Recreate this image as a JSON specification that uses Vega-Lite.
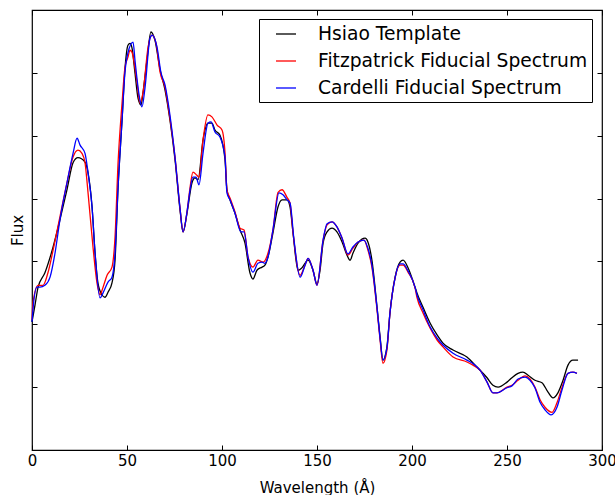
{
  "$schema": "https://vega.github.io/schema/vega-lite/v6.json",
  "width": 570,
  "height": 440,
  "autosize": {"type": "none"},
  "padding": {"left": 32, "top": 10, "right": 13, "bottom": 45},
  "background": "white",
  "config": {
    "font": "DejaVu Sans",
    "view": {"stroke": "black", "strokeWidth": 1.2},
    "axis": {"grid": false, "domain": false, "tickColor": "black", "tickSize": -5, "tickWidth": 1, "labelColor": "black", "titleColor": "black", "labelFont": "DejaVu Sans", "titleFont": "DejaVu Sans", "labelFontSize": 15, "titleFontSize": 15, "titleFontWeight": "normal", "labelFlush": false}
  },
  "datasets": {
    "spec": [
      {"s":"Hsiao Template","x":0,"y":2.04},{"s":"Hsiao Template","x":1.6,"y":2.31},{"s":"Hsiao Template","x":3.2,"y":2.59},{"s":"Hsiao Template","x":6.8,"y":2.82},{"s":"Hsiao Template","x":11.1,"y":3.23},{"s":"Hsiao Template","x":14.7,"y":3.66},{"s":"Hsiao Template","x":18.4,"y":4.14},{"s":"Hsiao Template","x":21.6,"y":4.57},{"s":"Hsiao Template","x":24.2,"y":4.65},{"s":"Hsiao Template","x":27.9,"y":4.58},{"s":"Hsiao Template","x":29.5,"y":4.41},{"s":"Hsiao Template","x":31.6,"y":3.87},{"s":"Hsiao Template","x":33.2,"y":3.13},{"s":"Hsiao Template","x":34.7,"y":2.66},{"s":"Hsiao Template","x":36.8,"y":2.47},{"s":"Hsiao Template","x":38.4,"y":2.43},{"s":"Hsiao Template","x":40.0,"y":2.51},{"s":"Hsiao Template","x":42.1,"y":2.66},{"s":"Hsiao Template","x":43.7,"y":3.02},{"s":"Hsiao Template","x":45.3,"y":4.18},{"s":"Hsiao Template","x":47.4,"y":5.25},{"s":"Hsiao Template","x":48.9,"y":6.05},{"s":"Hsiao Template","x":50.5,"y":6.44},{"s":"Hsiao Template","x":51.6,"y":6.47},{"s":"Hsiao Template","x":52.6,"y":6.40},{"s":"Hsiao Template","x":54.2,"y":6.00},{"s":"Hsiao Template","x":55.8,"y":5.60},{"s":"Hsiao Template","x":57.4,"y":5.49},{"s":"Hsiao Template","x":58.4,"y":5.68},{"s":"Hsiao Template","x":60.5,"y":6.20},{"s":"Hsiao Template","x":62.6,"y":6.65},{"s":"Hsiao Template","x":64.7,"y":6.52},{"s":"Hsiao Template","x":67.4,"y":6.05},{"s":"Hsiao Template","x":70.0,"y":5.73},{"s":"Hsiao Template","x":72.6,"y":5.25},{"s":"Hsiao Template","x":75.3,"y":4.61},{"s":"Hsiao Template","x":77.9,"y":3.82},{"s":"Hsiao Template","x":79.5,"y":3.47},{"s":"Hsiao Template","x":81.6,"y":3.77},{"s":"Hsiao Template","x":84.2,"y":4.25},{"s":"Hsiao Template","x":85.8,"y":4.33},{"s":"Hsiao Template","x":87.4,"y":4.30},{"s":"Hsiao Template","x":90.0,"y":4.93},{"s":"Hsiao Template","x":92.6,"y":5.20},{"s":"Hsiao Template","x":94.7,"y":5.20},{"s":"Hsiao Template","x":96.3,"y":5.09},{"s":"Hsiao Template","x":98.9,"y":5.01},{"s":"Hsiao Template","x":101.6,"y":4.61},{"s":"Hsiao Template","x":102.6,"y":4.14},{"s":"Hsiao Template","x":104.2,"y":3.98},{"s":"Hsiao Template","x":106.8,"y":3.77},{"s":"Hsiao Template","x":109.5,"y":3.50},{"s":"Hsiao Template","x":112.1,"y":3.29},{"s":"Hsiao Template","x":114.7,"y":2.82},{"s":"Hsiao Template","x":116.3,"y":2.72},{"s":"Hsiao Template","x":118.4,"y":2.86},{"s":"Hsiao Template","x":121.1,"y":2.91},{"s":"Hsiao Template","x":122.6,"y":2.94},{"s":"Hsiao Template","x":124.2,"y":3.07},{"s":"Hsiao Template","x":126.8,"y":3.45},{"s":"Hsiao Template","x":129.5,"y":3.87},{"s":"Hsiao Template","x":131.6,"y":3.98},{"s":"Hsiao Template","x":134.2,"y":3.98},{"s":"Hsiao Template","x":135.8,"y":3.87},{"s":"Hsiao Template","x":137.4,"y":3.45},{"s":"Hsiao Template","x":140.0,"y":2.86},{"s":"Hsiao Template","x":142.1,"y":2.90},{"s":"Hsiao Template","x":145.3,"y":3.02},{"s":"Hsiao Template","x":147.9,"y":2.86},{"s":"Hsiao Template","x":150.0,"y":2.64},{"s":"Hsiao Template","x":151.6,"y":2.86},{"s":"Hsiao Template","x":153.2,"y":3.29},{"s":"Hsiao Template","x":155.3,"y":3.47},{"s":"Hsiao Template","x":157.9,"y":3.53},{"s":"Hsiao Template","x":160.5,"y":3.47},{"s":"Hsiao Template","x":163.2,"y":3.31},{"s":"Hsiao Template","x":165.8,"y":3.10},{"s":"Hsiao Template","x":167.4,"y":3.02},{"s":"Hsiao Template","x":168.9,"y":3.13},{"s":"Hsiao Template","x":171.6,"y":3.29},{"s":"Hsiao Template","x":175.3,"y":3.37},{"s":"Hsiao Template","x":176.8,"y":3.31},{"s":"Hsiao Template","x":178.9,"y":3.02},{"s":"Hsiao Template","x":181.6,"y":2.27},{"s":"Hsiao Template","x":183.2,"y":1.80},{"s":"Hsiao Template","x":184.7,"y":1.43},{"s":"Hsiao Template","x":186.8,"y":1.64},{"s":"Hsiao Template","x":188.4,"y":2.18},{"s":"Hsiao Template","x":191.1,"y":2.75},{"s":"Hsiao Template","x":193.7,"y":2.99},{"s":"Hsiao Template","x":195.3,"y":3.02},{"s":"Hsiao Template","x":197.9,"y":2.90},{"s":"Hsiao Template","x":201.6,"y":2.59},{"s":"Hsiao Template","x":202.6,"y":2.50},{"s":"Hsiao Template","x":205.8,"y":2.27},{"s":"Hsiao Template","x":209.5,"y":2.02},{"s":"Hsiao Template","x":213.2,"y":1.83},{"s":"Hsiao Template","x":216.3,"y":1.70},{"s":"Hsiao Template","x":221.6,"y":1.59},{"s":"Hsiao Template","x":228.9,"y":1.48},{"s":"Hsiao Template","x":234.2,"y":1.32},{"s":"Hsiao Template","x":239.5,"y":1.15},{"s":"Hsiao Template","x":242.6,"y":1.03},{"s":"Hsiao Template","x":245.3,"y":1.00},{"s":"Hsiao Template","x":250.0,"y":1.08},{"s":"Hsiao Template","x":252.6,"y":1.15},{"s":"Hsiao Template","x":255.8,"y":1.22},{"s":"Hsiao Template","x":258.4,"y":1.24},{"s":"Hsiao Template","x":261.1,"y":1.19},{"s":"Hsiao Template","x":264.7,"y":1.11},{"s":"Hsiao Template","x":268.4,"y":1.07},{"s":"Hsiao Template","x":271.6,"y":0.92},{"s":"Hsiao Template","x":274.2,"y":0.83},{"s":"Hsiao Template","x":276.8,"y":0.91},{"s":"Hsiao Template","x":279.5,"y":1.11},{"s":"Hsiao Template","x":282.1,"y":1.35},{"s":"Hsiao Template","x":284.7,"y":1.43},{"s":"Hsiao Template","x":287.4,"y":1.43},

      {"s":"Fitzpatrick Fiducial Spectrum","x":0,"y":2.07},{"s":"Fitzpatrick Fiducial Spectrum","x":0.5,"y":2.34},{"s":"Fitzpatrick Fiducial Spectrum","x":3.2,"y":2.62},{"s":"Fitzpatrick Fiducial Spectrum","x":5.8,"y":2.62},{"s":"Fitzpatrick Fiducial Spectrum","x":8.4,"y":2.82},{"s":"Fitzpatrick Fiducial Spectrum","x":11.1,"y":3.18},{"s":"Fitzpatrick Fiducial Spectrum","x":14.7,"y":3.71},{"s":"Fitzpatrick Fiducial Spectrum","x":18.4,"y":4.25},{"s":"Fitzpatrick Fiducial Spectrum","x":21.6,"y":4.66},{"s":"Fitzpatrick Fiducial Spectrum","x":24.2,"y":4.77},{"s":"Fitzpatrick Fiducial Spectrum","x":26.3,"y":4.72},{"s":"Fitzpatrick Fiducial Spectrum","x":27.9,"y":4.57},{"s":"Fitzpatrick Fiducial Spectrum","x":29.5,"y":4.09},{"s":"Fitzpatrick Fiducial Spectrum","x":32.1,"y":3.23},{"s":"Fitzpatrick Fiducial Spectrum","x":34.2,"y":2.66},{"s":"Fitzpatrick Fiducial Spectrum","x":35.8,"y":2.47},{"s":"Fitzpatrick Fiducial Spectrum","x":37.4,"y":2.59},{"s":"Fitzpatrick Fiducial Spectrum","x":39.5,"y":2.78},{"s":"Fitzpatrick Fiducial Spectrum","x":42.1,"y":2.91},{"s":"Fitzpatrick Fiducial Spectrum","x":43.7,"y":3.39},{"s":"Fitzpatrick Fiducial Spectrum","x":45.3,"y":4.57},{"s":"Fitzpatrick Fiducial Spectrum","x":47.4,"y":5.52},{"s":"Fitzpatrick Fiducial Spectrum","x":48.9,"y":6.08},{"s":"Fitzpatrick Fiducial Spectrum","x":50.5,"y":6.25},{"s":"Fitzpatrick Fiducial Spectrum","x":51.6,"y":6.36},{"s":"Fitzpatrick Fiducial Spectrum","x":52.6,"y":6.33},{"s":"Fitzpatrick Fiducial Spectrum","x":55.3,"y":5.84},{"s":"Fitzpatrick Fiducial Spectrum","x":56.8,"y":5.52},{"s":"Fitzpatrick Fiducial Spectrum","x":58.4,"y":5.68},{"s":"Fitzpatrick Fiducial Spectrum","x":61.1,"y":6.41},{"s":"Fitzpatrick Fiducial Spectrum","x":63.2,"y":6.60},{"s":"Fitzpatrick Fiducial Spectrum","x":65.3,"y":6.47},{"s":"Fitzpatrick Fiducial Spectrum","x":67.4,"y":6.01},{"s":"Fitzpatrick Fiducial Spectrum","x":70.0,"y":5.77},{"s":"Fitzpatrick Fiducial Spectrum","x":72.6,"y":5.28},{"s":"Fitzpatrick Fiducial Spectrum","x":75.3,"y":4.65},{"s":"Fitzpatrick Fiducial Spectrum","x":77.9,"y":3.85},{"s":"Fitzpatrick Fiducial Spectrum","x":79.5,"y":3.47},{"s":"Fitzpatrick Fiducial Spectrum","x":81.6,"y":3.79},{"s":"Fitzpatrick Fiducial Spectrum","x":83.2,"y":4.18},{"s":"Fitzpatrick Fiducial Spectrum","x":84.7,"y":4.42},{"s":"Fitzpatrick Fiducial Spectrum","x":86.8,"y":4.37},{"s":"Fitzpatrick Fiducial Spectrum","x":87.9,"y":4.34},{"s":"Fitzpatrick Fiducial Spectrum","x":90.0,"y":4.93},{"s":"Fitzpatrick Fiducial Spectrum","x":92.6,"y":5.33},{"s":"Fitzpatrick Fiducial Spectrum","x":94.7,"y":5.30},{"s":"Fitzpatrick Fiducial Spectrum","x":97.4,"y":5.17},{"s":"Fitzpatrick Fiducial Spectrum","x":100.0,"y":5.09},{"s":"Fitzpatrick Fiducial Spectrum","x":101.6,"y":4.72},{"s":"Fitzpatrick Fiducial Spectrum","x":102.6,"y":4.14},{"s":"Fitzpatrick Fiducial Spectrum","x":104.2,"y":4.01},{"s":"Fitzpatrick Fiducial Spectrum","x":106.8,"y":3.79},{"s":"Fitzpatrick Fiducial Spectrum","x":109.5,"y":3.53},{"s":"Fitzpatrick Fiducial Spectrum","x":111.6,"y":3.50},{"s":"Fitzpatrick Fiducial Spectrum","x":113.7,"y":3.07},{"s":"Fitzpatrick Fiducial Spectrum","x":116.3,"y":2.91},{"s":"Fitzpatrick Fiducial Spectrum","x":118.9,"y":3.02},{"s":"Fitzpatrick Fiducial Spectrum","x":121.6,"y":2.99},{"s":"Fitzpatrick Fiducial Spectrum","x":124.2,"y":3.13},{"s":"Fitzpatrick Fiducial Spectrum","x":126.8,"y":3.50},{"s":"Fitzpatrick Fiducial Spectrum","x":129.5,"y":4.10},{"s":"Fitzpatrick Fiducial Spectrum","x":131.6,"y":4.14},{"s":"Fitzpatrick Fiducial Spectrum","x":134.2,"y":4.02},{"s":"Fitzpatrick Fiducial Spectrum","x":135.8,"y":3.93},{"s":"Fitzpatrick Fiducial Spectrum","x":137.4,"y":3.45},{"s":"Fitzpatrick Fiducial Spectrum","x":141.1,"y":2.78},{"s":"Fitzpatrick Fiducial Spectrum","x":143.7,"y":2.94},{"s":"Fitzpatrick Fiducial Spectrum","x":145.3,"y":3.05},{"s":"Fitzpatrick Fiducial Spectrum","x":147.9,"y":2.86},{"s":"Fitzpatrick Fiducial Spectrum","x":150.0,"y":2.62},{"s":"Fitzpatrick Fiducial Spectrum","x":153.2,"y":3.34},{"s":"Fitzpatrick Fiducial Spectrum","x":155.3,"y":3.58},{"s":"Fitzpatrick Fiducial Spectrum","x":157.9,"y":3.63},{"s":"Fitzpatrick Fiducial Spectrum","x":160.5,"y":3.55},{"s":"Fitzpatrick Fiducial Spectrum","x":163.2,"y":3.37},{"s":"Fitzpatrick Fiducial Spectrum","x":166.3,"y":3.10},{"s":"Fitzpatrick Fiducial Spectrum","x":168.9,"y":3.21},{"s":"Fitzpatrick Fiducial Spectrum","x":171.6,"y":3.31},{"s":"Fitzpatrick Fiducial Spectrum","x":174.7,"y":3.34},{"s":"Fitzpatrick Fiducial Spectrum","x":176.8,"y":3.18},{"s":"Fitzpatrick Fiducial Spectrum","x":178.9,"y":2.91},{"s":"Fitzpatrick Fiducial Spectrum","x":181.6,"y":2.23},{"s":"Fitzpatrick Fiducial Spectrum","x":183.2,"y":1.75},{"s":"Fitzpatrick Fiducial Spectrum","x":184.7,"y":1.38},{"s":"Fitzpatrick Fiducial Spectrum","x":186.8,"y":1.59},{"s":"Fitzpatrick Fiducial Spectrum","x":188.4,"y":2.18},{"s":"Fitzpatrick Fiducial Spectrum","x":191.1,"y":2.74},{"s":"Fitzpatrick Fiducial Spectrum","x":193.7,"y":2.94},{"s":"Fitzpatrick Fiducial Spectrum","x":195.3,"y":2.94},{"s":"Fitzpatrick Fiducial Spectrum","x":197.9,"y":2.83},{"s":"Fitzpatrick Fiducial Spectrum","x":201.6,"y":2.58},{"s":"Fitzpatrick Fiducial Spectrum","x":202.6,"y":2.43},{"s":"Fitzpatrick Fiducial Spectrum","x":205.8,"y":2.18},{"s":"Fitzpatrick Fiducial Spectrum","x":209.5,"y":1.94},{"s":"Fitzpatrick Fiducial Spectrum","x":213.2,"y":1.75},{"s":"Fitzpatrick Fiducial Spectrum","x":216.3,"y":1.64},{"s":"Fitzpatrick Fiducial Spectrum","x":221.6,"y":1.48},{"s":"Fitzpatrick Fiducial Spectrum","x":228.9,"y":1.40},{"s":"Fitzpatrick Fiducial Spectrum","x":232.1,"y":1.35},{"s":"Fitzpatrick Fiducial Spectrum","x":235.8,"y":1.27},{"s":"Fitzpatrick Fiducial Spectrum","x":239.5,"y":1.08},{"s":"Fitzpatrick Fiducial Spectrum","x":242.6,"y":0.91},{"s":"Fitzpatrick Fiducial Spectrum","x":244.7,"y":0.91},{"s":"Fitzpatrick Fiducial Spectrum","x":250.0,"y":1.00},{"s":"Fitzpatrick Fiducial Spectrum","x":252.6,"y":1.03},{"s":"Fitzpatrick Fiducial Spectrum","x":255.8,"y":1.11},{"s":"Fitzpatrick Fiducial Spectrum","x":259.5,"y":1.18},{"s":"Fitzpatrick Fiducial Spectrum","x":262.1,"y":1.13},{"s":"Fitzpatrick Fiducial Spectrum","x":264.7,"y":1.00},{"s":"Fitzpatrick Fiducial Spectrum","x":267.4,"y":0.80},{"s":"Fitzpatrick Fiducial Spectrum","x":270.0,"y":0.68},{"s":"Fitzpatrick Fiducial Spectrum","x":273.7,"y":0.60},{"s":"Fitzpatrick Fiducial Spectrum","x":276.3,"y":0.75},{"s":"Fitzpatrick Fiducial Spectrum","x":278.9,"y":0.99},{"s":"Fitzpatrick Fiducial Spectrum","x":282.1,"y":1.22},{"s":"Fitzpatrick Fiducial Spectrum","x":284.7,"y":1.24},{"s":"Fitzpatrick Fiducial Spectrum","x":286.8,"y":1.22},

      {"s":"Cardelli Fiducial Spectrum","x":0,"y":2.04},{"s":"Cardelli Fiducial Spectrum","x":0.5,"y":2.23},{"s":"Cardelli Fiducial Spectrum","x":2.6,"y":2.59},{"s":"Cardelli Fiducial Spectrum","x":4.2,"y":2.59},{"s":"Cardelli Fiducial Spectrum","x":6.8,"y":2.62},{"s":"Cardelli Fiducial Spectrum","x":9.5,"y":2.75},{"s":"Cardelli Fiducial Spectrum","x":12.1,"y":3.13},{"s":"Cardelli Fiducial Spectrum","x":14.7,"y":3.66},{"s":"Cardelli Fiducial Spectrum","x":18.4,"y":4.25},{"s":"Cardelli Fiducial Spectrum","x":21.6,"y":4.72},{"s":"Cardelli Fiducial Spectrum","x":23.7,"y":4.96},{"s":"Cardelli Fiducial Spectrum","x":25.3,"y":4.85},{"s":"Cardelli Fiducial Spectrum","x":27.9,"y":4.72},{"s":"Cardelli Fiducial Spectrum","x":29.5,"y":4.41},{"s":"Cardelli Fiducial Spectrum","x":31.6,"y":3.87},{"s":"Cardelli Fiducial Spectrum","x":33.2,"y":3.13},{"s":"Cardelli Fiducial Spectrum","x":35.8,"y":2.42},{"s":"Cardelli Fiducial Spectrum","x":37.4,"y":2.50},{"s":"Cardelli Fiducial Spectrum","x":40.0,"y":2.67},{"s":"Cardelli Fiducial Spectrum","x":42.1,"y":2.75},{"s":"Cardelli Fiducial Spectrum","x":43.7,"y":3.13},{"s":"Cardelli Fiducial Spectrum","x":45.3,"y":4.18},{"s":"Cardelli Fiducial Spectrum","x":47.4,"y":5.25},{"s":"Cardelli Fiducial Spectrum","x":48.9,"y":6.00},{"s":"Cardelli Fiducial Spectrum","x":50.5,"y":6.32},{"s":"Cardelli Fiducial Spectrum","x":53.2,"y":6.49},{"s":"Cardelli Fiducial Spectrum","x":54.2,"y":6.20},{"s":"Cardelli Fiducial Spectrum","x":56.8,"y":5.57},{"s":"Cardelli Fiducial Spectrum","x":57.9,"y":5.46},{"s":"Cardelli Fiducial Spectrum","x":59.5,"y":5.77},{"s":"Cardelli Fiducial Spectrum","x":62.1,"y":6.55},{"s":"Cardelli Fiducial Spectrum","x":63.2,"y":6.60},{"s":"Cardelli Fiducial Spectrum","x":65.8,"y":6.41},{"s":"Cardelli Fiducial Spectrum","x":67.9,"y":6.00},{"s":"Cardelli Fiducial Spectrum","x":70.0,"y":5.81},{"s":"Cardelli Fiducial Spectrum","x":72.6,"y":5.33},{"s":"Cardelli Fiducial Spectrum","x":75.3,"y":4.65},{"s":"Cardelli Fiducial Spectrum","x":77.9,"y":3.85},{"s":"Cardelli Fiducial Spectrum","x":79.5,"y":3.47},{"s":"Cardelli Fiducial Spectrum","x":81.6,"y":3.79},{"s":"Cardelli Fiducial Spectrum","x":83.2,"y":4.14},{"s":"Cardelli Fiducial Spectrum","x":84.7,"y":4.34},{"s":"Cardelli Fiducial Spectrum","x":86.3,"y":4.34},{"s":"Cardelli Fiducial Spectrum","x":87.9,"y":4.22},{"s":"Cardelli Fiducial Spectrum","x":90.0,"y":4.72},{"s":"Cardelli Fiducial Spectrum","x":92.6,"y":5.20},{"s":"Cardelli Fiducial Spectrum","x":94.2,"y":5.22},{"s":"Cardelli Fiducial Spectrum","x":96.3,"y":5.06},{"s":"Cardelli Fiducial Spectrum","x":98.9,"y":4.98},{"s":"Cardelli Fiducial Spectrum","x":101.6,"y":4.66},{"s":"Cardelli Fiducial Spectrum","x":102.6,"y":4.09},{"s":"Cardelli Fiducial Spectrum","x":104.2,"y":3.98},{"s":"Cardelli Fiducial Spectrum","x":106.8,"y":3.77},{"s":"Cardelli Fiducial Spectrum","x":110.0,"y":3.47},{"s":"Cardelli Fiducial Spectrum","x":111.6,"y":3.47},{"s":"Cardelli Fiducial Spectrum","x":113.7,"y":3.07},{"s":"Cardelli Fiducial Spectrum","x":116.3,"y":2.83},{"s":"Cardelli Fiducial Spectrum","x":118.9,"y":2.97},{"s":"Cardelli Fiducial Spectrum","x":121.1,"y":2.99},{"s":"Cardelli Fiducial Spectrum","x":122.6,"y":2.97},{"s":"Cardelli Fiducial Spectrum","x":124.2,"y":3.07},{"s":"Cardelli Fiducial Spectrum","x":126.8,"y":3.50},{"s":"Cardelli Fiducial Spectrum","x":130.0,"y":4.09},{"s":"Cardelli Fiducial Spectrum","x":132.1,"y":4.06},{"s":"Cardelli Fiducial Spectrum","x":134.2,"y":3.98},{"s":"Cardelli Fiducial Spectrum","x":135.8,"y":3.93},{"s":"Cardelli Fiducial Spectrum","x":137.9,"y":3.34},{"s":"Cardelli Fiducial Spectrum","x":141.1,"y":2.75},{"s":"Cardelli Fiducial Spectrum","x":143.7,"y":2.94},{"s":"Cardelli Fiducial Spectrum","x":145.3,"y":3.05},{"s":"Cardelli Fiducial Spectrum","x":147.9,"y":2.86},{"s":"Cardelli Fiducial Spectrum","x":150.0,"y":2.62},{"s":"Cardelli Fiducial Spectrum","x":153.2,"y":3.34},{"s":"Cardelli Fiducial Spectrum","x":155.3,"y":3.60},{"s":"Cardelli Fiducial Spectrum","x":157.9,"y":3.63},{"s":"Cardelli Fiducial Spectrum","x":160.5,"y":3.55},{"s":"Cardelli Fiducial Spectrum","x":163.2,"y":3.37},{"s":"Cardelli Fiducial Spectrum","x":166.3,"y":3.12},{"s":"Cardelli Fiducial Spectrum","x":168.9,"y":3.23},{"s":"Cardelli Fiducial Spectrum","x":171.6,"y":3.31},{"s":"Cardelli Fiducial Spectrum","x":174.7,"y":3.34},{"s":"Cardelli Fiducial Spectrum","x":176.8,"y":3.21},{"s":"Cardelli Fiducial Spectrum","x":178.9,"y":2.94},{"s":"Cardelli Fiducial Spectrum","x":181.6,"y":2.26},{"s":"Cardelli Fiducial Spectrum","x":183.2,"y":1.78},{"s":"Cardelli Fiducial Spectrum","x":184.7,"y":1.43},{"s":"Cardelli Fiducial Spectrum","x":186.8,"y":1.62},{"s":"Cardelli Fiducial Spectrum","x":188.4,"y":2.18},{"s":"Cardelli Fiducial Spectrum","x":191.1,"y":2.74},{"s":"Cardelli Fiducial Spectrum","x":193.7,"y":2.96},{"s":"Cardelli Fiducial Spectrum","x":195.3,"y":2.96},{"s":"Cardelli Fiducial Spectrum","x":197.9,"y":2.85},{"s":"Cardelli Fiducial Spectrum","x":201.6,"y":2.59},{"s":"Cardelli Fiducial Spectrum","x":202.6,"y":2.47},{"s":"Cardelli Fiducial Spectrum","x":205.8,"y":2.23},{"s":"Cardelli Fiducial Spectrum","x":209.5,"y":1.96},{"s":"Cardelli Fiducial Spectrum","x":213.2,"y":1.78},{"s":"Cardelli Fiducial Spectrum","x":216.3,"y":1.67},{"s":"Cardelli Fiducial Spectrum","x":221.6,"y":1.54},{"s":"Cardelli Fiducial Spectrum","x":228.9,"y":1.43},{"s":"Cardelli Fiducial Spectrum","x":233.2,"y":1.35},{"s":"Cardelli Fiducial Spectrum","x":235.8,"y":1.27},{"s":"Cardelli Fiducial Spectrum","x":239.5,"y":1.08},{"s":"Cardelli Fiducial Spectrum","x":242.6,"y":0.91},{"s":"Cardelli Fiducial Spectrum","x":244.7,"y":0.91},{"s":"Cardelli Fiducial Spectrum","x":250.0,"y":0.99},{"s":"Cardelli Fiducial Spectrum","x":252.6,"y":1.02},{"s":"Cardelli Fiducial Spectrum","x":255.8,"y":1.13},{"s":"Cardelli Fiducial Spectrum","x":259.5,"y":1.16},{"s":"Cardelli Fiducial Spectrum","x":262.1,"y":1.11},{"s":"Cardelli Fiducial Spectrum","x":264.7,"y":0.99},{"s":"Cardelli Fiducial Spectrum","x":267.4,"y":0.76},{"s":"Cardelli Fiducial Spectrum","x":270.0,"y":0.64},{"s":"Cardelli Fiducial Spectrum","x":273.2,"y":0.56},{"s":"Cardelli Fiducial Spectrum","x":276.3,"y":0.68},{"s":"Cardelli Fiducial Spectrum","x":278.9,"y":0.95},{"s":"Cardelli Fiducial Spectrum","x":282.1,"y":1.22},{"s":"Cardelli Fiducial Spectrum","x":284.7,"y":1.24},{"s":"Cardelli Fiducial Spectrum","x":286.8,"y":1.22}
    ]
  },
  "data": {"name": "spec"},
  "layer": [
    {
      "mark": {"type": "line", "strokeWidth": 1.3, "interpolate": "monotone"},
      "encoding": {
        "x": {"field": "x", "type": "quantitative", "scale": {"domain": [0, 300], "nice": false},
              "axis": {"orient": "bottom", "values": [0, 50, 100, 150, 200, 250, 300], "title": "Wavelength (Å)", "labelPadding": 8, "titlePadding": 12}},
        "y": {"field": "y", "type": "quantitative", "scale": {"domain": [0, 7], "nice": false, "zero": false},
              "axis": {"orient": "left", "values": [0, 1, 2, 3, 4, 5, 6, 7], "labels": false, "title": "Flux", "titlePadding": 6}},
        "color": {"field": "s", "type": "nominal",
                  "scale": {"domain": ["Hsiao Template", "Fitzpatrick Fiducial Spectrum", "Cardelli Fiducial Spectrum"], "range": ["#000000", "#ff0000", "#0000ff"]},
                  "legend": {"title": null, "orient": "none", "legendX": 227, "legendY": 9, "direction": "vertical",
                             "symbolType": "stroke", "symbolSize": 400, "symbolStrokeWidth": 1.3, "symbolOffset": 12, "labelFontSize": 18.7, "labelFont": "DejaVu Sans", "labelColor": "black", "labelLimit": 400, "labelOffset": 21,
                             "strokeColor": "black", "fillColor": "white", "padding": 4, "rowPadding": 6, "cornerRadius": 0}}
      }
    },
    {
      "mark": {"type": "line", "opacity": 0},
      "encoding": {
        "x": {"field": "x", "type": "quantitative", "axis": {"orient": "top", "values": [0, 50, 100, 150, 200, 250, 300], "labels": false, "title": null}},
        "y": {"field": "y", "type": "quantitative", "axis": {"orient": "right", "values": [0, 1, 2, 3, 4, 5, 6, 7], "labels": false, "title": null}},
        "detail": {"field": "s"}
      }
    }
  ],
  "resolve": {"axis": {"x": "independent", "y": "independent"}}
}
